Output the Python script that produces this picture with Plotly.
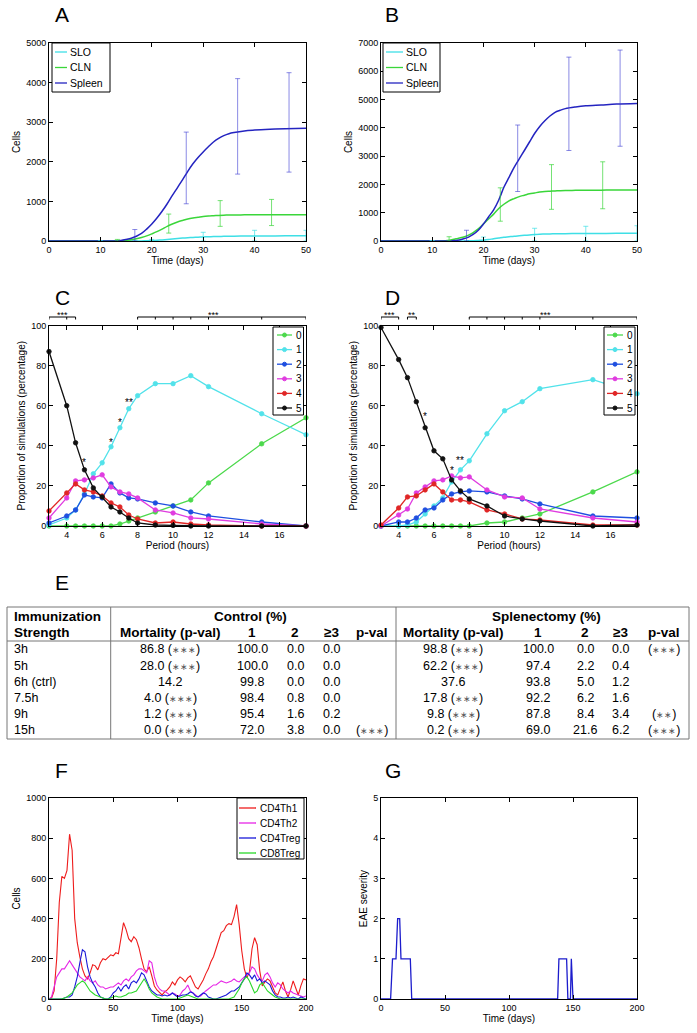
import plotly.graph_objects as go

W, H = 697, 1033
FONT = "Liberation Sans, Arial, Helvetica, sans-serif"


def px(x):
    return x / W


def py(y):
    return 1 - y / H


# ---------------- panels A / B : cells vs time ----------------
t_ab = [0, 10, 13, 14, 15, 16, 17, 18, 19, 20, 21, 22, 23, 24, 25, 26,
        27, 28, 29, 30, 31, 32, 33, 34, 35, 36, 38, 40, 43, 46, 50]

a_slo = [0, 0, 0, 0, 0, 0, 0, 2, 5, 10, 18, 28, 40, 52, 63, 73,
         82, 90, 97, 103, 108, 112, 115, 118, 120, 122, 125, 127, 129, 130, 132]
a_cln = [0, 0, 0, 5, 15, 30, 55, 90, 130, 180, 235, 300, 370, 430, 480, 520,
         555, 580, 600, 620, 632, 640, 647, 652, 655, 658, 660, 662, 663, 664, 665]
a_spleen = [0, 0, 0, 15, 40, 70, 120, 190, 300, 430, 580, 750, 940, 1150, 1350, 1550,
            1760, 1950, 2110, 2250, 2380, 2500, 2590, 2660, 2710, 2740, 2780, 2800, 2820, 2835, 2850]

b_slo = [0, 0, 0, 0, 0, 0, 5, 10, 20, 30, 50, 80, 105, 130, 150, 170,
         185, 200, 215, 230, 240, 245, 250, 255, 258, 260, 263, 266, 268, 270, 272]
b_cln = [0, 0, 20, 50, 90, 130, 200, 300, 430, 600, 780, 950, 1150, 1300, 1420, 1500,
         1570, 1620, 1670, 1700, 1730, 1750, 1760, 1770, 1780, 1785, 1790, 1795, 1798, 1800, 1800]
b_spleen = [0, 0, 0, 10, 30, 70, 130, 230, 380, 600, 850, 1100, 1450, 1900, 2250, 2600,
            2900, 3200, 3500, 3800, 4050, 4250, 4420, 4550, 4620, 4680, 4740, 4780, 4810, 4840, 4860]

# error bars (low / high ends)
err_t_slo = [10, 20, 30, 40, 50]
err_t_cln = [13.3, 23.3, 33.3, 43.3]
err_t_spl = [16.7, 26.7, 36.7, 46.7]
a_slo_lo, a_slo_hi = [0, 0, 0, 0, 0], [5, 40, 220, 270, 270]
a_cln_lo, a_cln_hi = [0, 200, 370, 390], [40, 680, 1020, 1050]
a_spl_lo, a_spl_hi = [0, 940, 1690, 1740], [290, 2750, 4100, 4250]
b_slo_lo, b_slo_hi = [0, 0, 0, 0, 0], [10, 140, 450, 520, 540]
b_cln_lo, b_cln_hi = [0, 700, 1120, 1140], [150, 1880, 2700, 2800]
b_spl_lo, b_spl_hi = [0, 1750, 3200, 3350], [380, 4100, 6500, 6750]

# ---------------- panels C / D : proportion vs period ----------------
periods = [3, 4, 4.5, 5, 5.5, 6, 6.5, 7, 7.5, 8, 9, 10, 11, 12, 15, 17.5]
groups = ["0", "1", "2", "3", "4", "5"]
c_vals = [
    [0, 0, 0, 0, 0, 0, 0, 1, 2.5, 4, 7, 10, 13, 21.5, 41, 54],
    [0.5, 4, 8, 16, 26, 31.5, 39.5, 49, 58.5, 65, 71, 71, 75, 69.5, 56, 45.5],
    [1.5, 5, 8, 15.5, 14.5, 14, 21, 16.5, 14, 13.5, 11.5, 10, 7, 5, 2, 0],
    [4, 14, 22.5, 23, 24, 25.5, 19.5, 17, 16, 14, 8, 6.5, 4, 3.5, 1, 0],
    [7.5, 16.5, 21, 18, 17, 15, 11.5, 9.5, 5.5, 3.5, 1.5, 2, 1, 0.5, 0, 0],
    [87, 60, 41.5, 28, 19, 14.5, 9.5, 7, 4, 1.5, 0.5, 0.3, 0, 0, 0, 0],
]
d_vals = [
    [0, 0, 0, 0, 0, 0, 0, 0, 0, 0, 1.5, 2, 4, 6, 17, 27],
    [0, 0, 0.5, 2, 6, 10, 14, 22, 28, 32.5, 46, 57.5, 62, 68.5, 73, 66],
    [0, 2, 2, 4, 8, 9, 13, 16, 17, 17.5, 17, 15, 13.5, 11, 5, 4],
    [0, 5.5, 8.5, 16.5, 19.5, 22.5, 23, 25, 24, 24.5, 18, 14.5, 14, 8.5, 4, 2],
    [0.5, 9, 14.5, 15, 18, 21, 17, 13, 13, 12, 8, 6, 3.5, 3, 0.5, 0.5],
    [99, 83, 74, 62, 49, 37.5, 33.5, 23, 17.5, 13.5, 10, 5, 3.5, 2.5, 0, 0.5],
]
c_stars = [(5, 33, "*"), (6.5, 43, "*"), (7, 53, "*"), (7.5, 63, "**")]
d_stars = [(5.5, 56, "*"), (7, 29, "*"), (7.5, 34, "**")]
c_brackets = [([3, 4, 4.5], 3.75, "***"), ([8, 9, 10, 11, 12, 15, 17.5], 12.3, "***")]
d_brackets = [([3, 4], 3.5, "***"), ([4.5, 5], 4.75, "**"),
              ([8, 9, 10, 11, 12, 15, 17.5], 12.3, "***")]

# ---------------- table E ----------------
strengths = ["3h", "5h", "6h (ctrl)", "7.5h", "9h", "15h"]
ctrl_mort = [86.8, 28.0, 14.2, 4.0, 1.2, 0.0]
ctrl_mort_p = [3, 3, 0, 3, 3, 3]
ctrl_1 = [100.0, 100.0, 99.8, 98.4, 95.4, 72.0]
ctrl_2 = [0.0, 0.0, 0.0, 0.8, 1.6, 3.8]
ctrl_3 = [0.0, 0.0, 0.0, 0.0, 0.2, 0.0]
ctrl_p = [0, 0, 0, 0, 0, 3]
spl_mort = [98.8, 62.2, 37.6, 17.8, 9.8, 0.2]
spl_mort_p = [3, 3, 0, 3, 3, 3]
spl_1 = [100.0, 97.4, 93.8, 92.2, 87.8, 69.0]
spl_2 = [0.0, 2.2, 5.0, 6.2, 8.4, 21.6]
spl_3 = [0.0, 0.4, 1.2, 1.6, 3.4, 6.2]
spl_p = [3, 0, 0, 0, 2, 3]

# ---------------- panel F : cells over 200 days ----------------
t_f = list(range(0, 201, 2))
cd4th1 = [0, 5, 40, 200, 480, 610, 600, 640, 820, 740, 400,
          280, 210, 150, 115, 100, 130, 170, 165, 145, 180,
          200, 195, 210, 220, 215, 230, 225, 310, 380, 345,
          300, 285, 310, 295, 255, 200, 150, 135, 160, 115,
          65, 45, 30, 20, 35, 45, 60, 85, 70, 95,
          110, 100, 85, 105, 115, 85, 60, 50, 70, 95,
          125, 150, 185, 210, 250, 290, 330, 340, 365, 375,
          370, 410, 470, 370, 240, 150, 105, 135, 250, 305,
          270, 140, 65, 85, 100, 90, 60, 30, 20, 55,
          85, 40, 10, 45, 90, 55, 20, 65, 100, 95]
cd4th2 = [0, 10, 60, 110, 130, 150, 150, 170, 190, 170, 150,
          130, 110, 100, 90, 110, 90, 80, 90, 70, 60,
          60, 50, 55, 60, 60, 70, 80, 70, 90, 100,
          90, 110, 120, 140, 150, 150, 140, 130, 190, 180,
          110, 70, 50, 40, 40, 30, 20, 30, 25, 15,
          20, 40, 50, 70, 40, 30, 20, 10, 15, 30,
          40, 50, 60, 70, 70, 80, 90, 85, 80, 85,
          90, 100, 90, 85, 100, 110, 120, 130, 160, 150,
          120, 100, 90, 120, 130, 110, 80, 60, 80, 70,
          50, 40, 30, 40, 30, 25, 20, 15, 10, 15]
cd4treg = [0, 0, 0, 0, 0, 0, 5, 10, 10, 20, 60,
           110, 180, 245, 235, 160, 110, 80, 60, 30, 10,
           5, 0, 0, 10, 30, 40, 60, 40, 60, 70,
           50, 80, 90, 80, 100, 130, 120, 90, 60, 40,
           30, 20, 20, 15, 20, 15, 20, 30, 20, 10,
           15, 20, 20, 25, 35, 30, 15, 10, 20, 30,
           25, 10, 5, 0, 0, 5, 10, 15, 20, 30,
           40, 40, 50, 60, 80, 100, 130, 120, 100, 120,
           90, 100, 80, 90, 80, 70, 40, 20, 10, 10,
           5, 5, 10, 5, 10, 5, 0, 10, 5, 0]
cd8treg = [0, 0, 0, 0, 0, 0, 5, 10, 20, 30, 50,
           70, 80, 90, 80, 60, 40, 30, 20, 15, 10,
           5, 0, 0, 5, 10, 15, 10, 10, 15, 20,
           30, 30, 35, 40, 60, 80, 100, 80, 50, 30,
           20, 10, 5, 0, 0, 0, 0, 0, 0, 0,
           5, 10, 15, 20, 15, 10, 5, 0, 0, 0,
           0, 0, 0, 0, 0, 0, 0, 0, 0, 0,
           5, 10, 30, 50, 80, 100, 110, 90, 60, 30,
           40, 70, 80, 60, 40, 30, 20, 10, 5, 0,
           0, 0, 0, 0, 0, 0, 0, 0, 0, 0]
f_names = ["CD4Th1", "CD4Th2", "CD4Treg", "CD8Treg"]

# ---------------- panel G : EAE severity ----------------
g_t = [0, 7.5, 9, 11.7, 13, 14.6, 15.6, 22.9, 24, 138, 139, 145, 146, 148, 148.7, 150, 200]
g_sev = [0, 0, 1, 1, 2, 2, 1, 1, 0, 0, 1, 1, 0, 0, 1, 0, 0]

# colours
CYAN, GREEN, NAVY = "#3fdfe6", "#3ad63a", "#2424c0"
ab_names = ["SLO", "CLN", "Spleen"]
ab_colors = [CYAN, GREEN, NAVY]
grp_colors = ["#4cd94c", "#52e2ea", "#1f4fe0", "#e03ce0", "#e02626", "#111111"]
f_colors = ["#ee1c1c", "#e626e6", "#1a1ad8", "#2ad82a"]

fig = go.Figure()


def err_trace(t, lo, hi, color, xa, ya):
    mid = [(a + b) / 2 for a, b in zip(lo, hi)]
    half = [(b - a) / 2 for a, b in zip(lo, hi)]
    return go.Scatter(x=t, y=mid, mode="markers",
                      marker=dict(size=1, color="rgba(0,0,0,0)"),
                      error_y=dict(type="data", array=half, color=color,
                                   thickness=1, width=2.5),
                      xaxis=xa, yaxis=ya, showlegend=False, hoverinfo="skip",
                      cliponaxis=False)


# A / B
for series, xa, ya in [([a_slo, a_cln, a_spleen], "x", "y"), ([b_slo, b_cln, b_spleen], "x2", "y2")]:
    for name, vals, col in zip(ab_names, series, ab_colors):
        fig.add_trace(go.Scatter(x=t_ab, y=vals, mode="lines", name=name,
                                 line=dict(color=col, width=1.5), line_shape="spline",
                                 xaxis=xa, yaxis=ya, showlegend=False))
fig.add_trace(err_trace(err_t_slo, a_slo_lo, a_slo_hi, "rgba(63,223,230,0.7)", "x", "y"))
fig.add_trace(err_trace(err_t_cln, a_cln_lo, a_cln_hi, "rgba(58,214,58,0.7)", "x", "y"))
fig.add_trace(err_trace(err_t_spl, a_spl_lo, a_spl_hi, "rgba(60,60,210,0.6)", "x", "y"))
fig.add_trace(err_trace(err_t_slo, b_slo_lo, b_slo_hi, "rgba(63,223,230,0.7)", "x2", "y2"))
fig.add_trace(err_trace(err_t_cln, b_cln_lo, b_cln_hi, "rgba(58,214,58,0.7)", "x2", "y2"))
fig.add_trace(err_trace(err_t_spl, b_spl_lo, b_spl_hi, "rgba(60,60,210,0.6)", "x2", "y2"))

# C / D
for vals_set, xa, ya in [(c_vals, "x3", "y3"), (d_vals, "x4", "y4")]:
    for g, vals, col in zip(groups, vals_set, grp_colors):
        fig.add_trace(go.Scatter(x=periods, y=vals, mode="lines+markers", name=g,
                                 line=dict(color=col, width=1.3),
                                 marker=dict(size=4.5, color=col, line=dict(width=0.8, color=col)),
                                 xaxis=xa, yaxis=ya, showlegend=False, cliponaxis=False))

# F
for name, vals, col in zip(f_names, [cd4th1, cd4th2, cd4treg, cd8treg], f_colors):
    fig.add_trace(go.Scatter(x=t_f, y=vals, mode="lines", name=name, line=dict(color=col, width=1.1),
                             xaxis="x5", yaxis="y5", showlegend=False))

# G
fig.add_trace(go.Scatter(x=g_t, y=g_sev, mode="lines", line=dict(color="#1c1ccc", width=1.3),
                         xaxis="x6", yaxis="y6", showlegend=False, cliponaxis=False))


def axis_style(**kw):
    d = dict(showline=True, linecolor="black", linewidth=1, mirror="ticks",
             ticks="inside", ticklen=4, tickcolor="black", showgrid=False,
             zeroline=False, automargin=False,
             tickfont=dict(size=9, family=FONT, color="black"),
             title_font=dict(size=10, family=FONT, color="black"), title_standoff=3)
    d.update(kw)
    return d


left_dom = [px(49), px(306)]
right_dom = [px(381), px(637)]
ab_dom = [py(241), py(43)]
cd_dom = [py(526), py(325.5)]
fg_dom = [py(999), py(798)]

fig.update_layout(
    width=W, height=H, margin=dict(l=0, r=0, t=0, b=0, autoexpand=False),
    paper_bgcolor="white", plot_bgcolor="white", showlegend=False,
    font=dict(family=FONT, color="black"), hovermode=False,
    xaxis=axis_style(domain=left_dom, anchor="y", range=[0, 50], dtick=10, title_text="Time (days)"),
    yaxis=axis_style(domain=ab_dom, anchor="x", range=[0, 5000], dtick=1000, title_text="Cells"),
    xaxis2=axis_style(domain=right_dom, anchor="y2", range=[0, 50], dtick=10, title_text="Time (days)"),
    yaxis2=axis_style(domain=ab_dom, anchor="x2", range=[0, 7000], dtick=1000, title_text="Cells"),
    xaxis3=axis_style(domain=left_dom, anchor="y3", range=[3, 17.5], dtick=2, title_text="Period (hours)"),
    yaxis3=axis_style(domain=cd_dom, anchor="x3", range=[0, 100], dtick=20,
                      title_text="Proportion of simulations (percentage)"),
    xaxis4=axis_style(domain=right_dom, anchor="y4", range=[3, 17.5], dtick=2, title_text="Period (hours)"),
    yaxis4=axis_style(domain=cd_dom, anchor="x4", range=[0, 100], dtick=20,
                      title_text="Proportion of simulations (percentage)"),
    xaxis5=axis_style(domain=left_dom, anchor="y5", range=[0, 200], dtick=50, title_text="Time (days)"),
    yaxis5=axis_style(domain=fg_dom, anchor="x5", range=[0, 1000], dtick=200, title_text="Cells"),
    xaxis6=axis_style(domain=right_dom, anchor="y6", range=[0, 200], dtick=50, title_text="Time (days)"),
    yaxis6=axis_style(domain=fg_dom, anchor="x6", range=[0, 5], dtick=1, title_text="EAE severity"),
)

annotations = []
shapes = []


def label(text, x, y, size, anchor="center", color="black"):
    annotations.append(dict(text=text, x=px(x), y=py(y), xref="paper", yref="paper",
                            showarrow=False, xanchor=anchor, yanchor="middle",
                            font=dict(size=size, family=FONT, color=color)))


def line_px(x0, y0, x1, y1, color="black", width=1):
    shapes.append(dict(type="line", xref="paper", yref="paper", x0=px(x0), x1=px(x1),
                       y0=py(y0), y1=py(y1), line=dict(color=color, width=width)))


# panel letters
for letter, x, y in [("A", 62, 15), ("B", 392, 15), ("C", 62, 297), ("D", 392, 297),
                     ("E", 62, 582), ("F", 61, 770), ("G", 393, 770)]:
    label(letter, x, y, 21)


# hand-drawn legends (MATLAB style boxes)
def legend_box(box, names, colors, rows, line_x, text_x, size, markers=False):
    x0, y0, x1, y1 = box
    shapes.append(dict(type="rect", xref="paper", yref="paper", x0=px(x0), x1=px(x1),
                       y0=py(y1), y1=py(y0), line=dict(color="black", width=1),
                       fillcolor="white", layer="above"))
    for name, col, ry in zip(names, colors, rows):
        line_px(line_x[0], ry, line_x[1], ry, col, 1.3)
        if markers:
            cx = (line_x[0] + line_x[1]) / 2
            shapes.append(dict(type="circle", xref="paper", yref="paper",
                               x0=px(cx - 2), x1=px(cx + 2), y0=py(ry + 2), y1=py(ry - 2),
                               line=dict(color=col, width=1), fillcolor=col))
        label(name, text_x, ry, size, anchor="left")


legend_box((52, 43, 110, 92), ab_names, ab_colors, [52, 67.5, 83], (55, 67), 68, 10.5)
legend_box((383, 43, 440, 92), ab_names, ab_colors, [52, 67.5, 83], (386, 403), 404, 10.5)
rows_cd = [335, 349.6, 364.2, 378.8, 393.4, 408]
legend_box((273, 327, 303.5, 415), groups, grp_colors, rows_cd, (277, 292), 294, 10, True)
legend_box((604, 327, 635, 415), groups, grp_colors, rows_cd, (607, 623), 625, 10, True)
legend_box((237, 798, 304, 859), f_names, f_colors, [808, 823, 838, 853], (239, 256), 258, 10)

# significance stars on C / D
for stars, xa, ya in [(c_stars, "x3", "y3"), (d_stars, "x4", "y4")]:
    for sx, sy, txt in stars:
        annotations.append(dict(text=txt, x=sx, y=sy - 1.5, xref=xa, yref=ya, showarrow=False,
                                font=dict(size=10, family=FONT, color="black")))

# brackets above C / D
for brackets, xa in [(c_brackets, "x3"), (d_brackets, "x4")]:
    for pts, sx, txt in brackets:
        shapes.append(dict(type="line", xref=xa, yref="paper", x0=pts[0], x1=pts[-1],
                           y0=py(317), y1=py(317), line=dict(color="black", width=1)))
        for p in pts:
            shapes.append(dict(type="line", xref=xa, yref="paper", x0=p, x1=p,
                               y0=py(317), y1=py(319.5), line=dict(color="black", width=1)))
        annotations.append(dict(text=txt, x=sx, y=py(315), xref=xa, yref="paper", showarrow=False,
                                yanchor="middle", font=dict(size=9, family=FONT, color="black")))

# table E
T_LEFT, T_RIGHT, T_TOP, T_HEAD, T_BOT = 7, 689, 607, 641, 739
SEP1, SEP2 = 110.7, 396
for x0, y0, x1, y1 in [(T_LEFT, T_TOP, T_RIGHT, T_TOP), (T_LEFT, T_BOT, T_RIGHT, T_BOT),
                       (T_LEFT, T_HEAD, T_RIGHT, T_HEAD), (T_LEFT, T_TOP, T_LEFT, T_BOT),
                       (T_RIGHT, T_TOP, T_RIGHT, T_BOT), (SEP1, T_TOP, SEP1, T_BOT),
                       (SEP2, T_TOP, SEP2, T_BOT)]:
    line_px(x0, y0, x1, y1, "#777777", 1)


def cell(text, x, y, bold=False, anchor="center"):
    label(f"<b>{text}</b>" if bold else text, x, y, 13.5 if bold else 12.5, anchor)


def star_txt(n):
    if not n:
        return ""
    return "(<span style='color:#555555;font-size:9px'>" + "∗" * n + "</span>)"


col_x = [170, 252, 295, 331, 372, 453, 538, 585, 620, 664]
cell("Immunization", 12, 616, True, "left")
cell("Strength", 12, 632, True, "left")
cell("Control (%)", 250, 616, True)
cell("Splenectomy (%)", 546, 616, True)
for x, h in zip(col_x, ["Mortality (p-val)", "1", "2", "≥3", "p-val"] * 2):
    cell(h, x, 632, True)

row_y = [649, 665.5, 682, 698, 714, 730]
for i, y in enumerate(row_y):
    cell(strengths[i], 12, y, anchor="left")
    vals = [f"{ctrl_mort[i]:.1f} " + star_txt(ctrl_mort_p[i]),
            f"{ctrl_1[i]:.1f}", f"{ctrl_2[i]:.1f}", f"{ctrl_3[i]:.1f}", star_txt(ctrl_p[i]),
            f"{spl_mort[i]:.1f} " + star_txt(spl_mort_p[i]),
            f"{spl_1[i]:.1f}", f"{spl_2[i]:.1f}", f"{spl_3[i]:.1f}", star_txt(spl_p[i])]
    for x, v in zip(col_x, vals):
        if v:
            cell(v.strip(), x, y)

fig.update_layout(annotations=annotations, shapes=shapes)

# drop the default 8px page margin so the figure sits at the window's corner
fig.write_html("out.html", config={"displayModeBar": False},
               post_script="document.body.style.margin='0';")
